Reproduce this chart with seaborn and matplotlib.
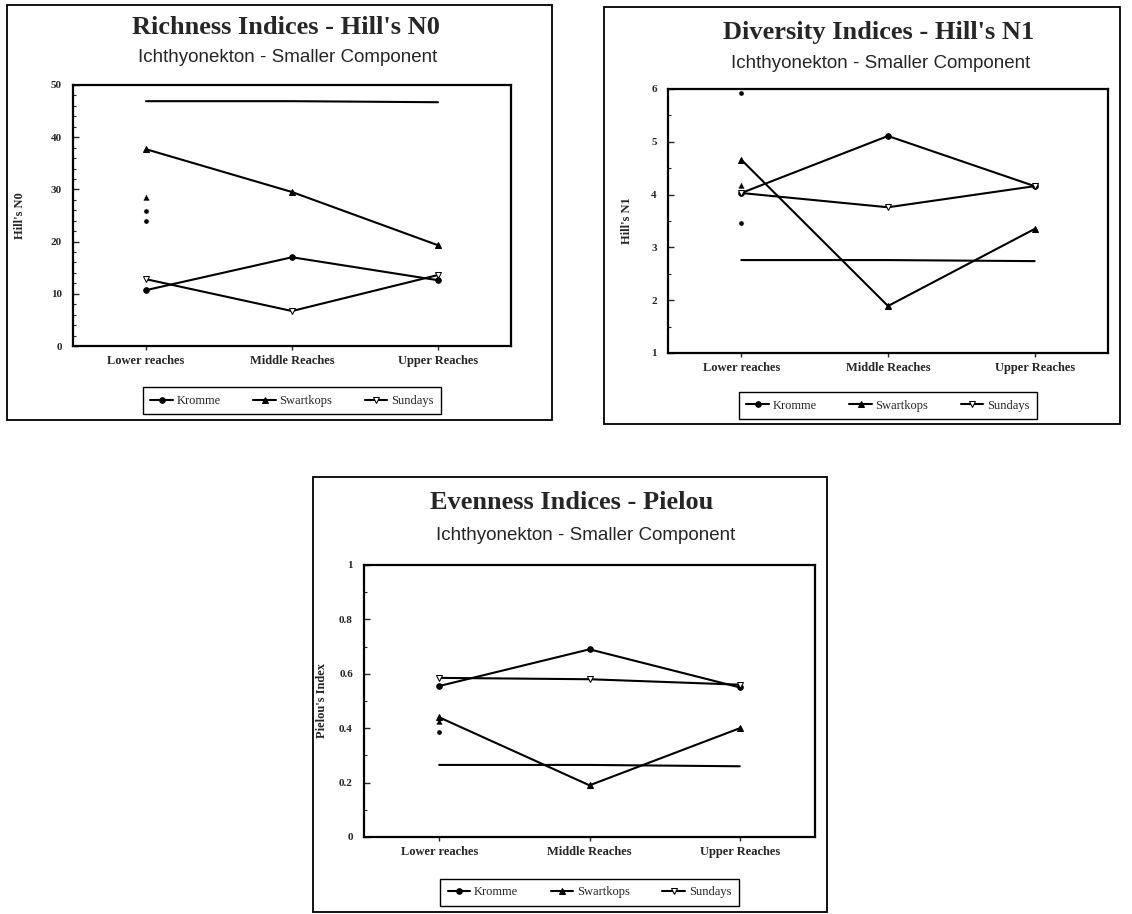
import matplotlib
matplotlib.use("Agg")
import matplotlib.pyplot as plt
from matplotlib.patches import Rectangle
from matplotlib.ticker import MultipleLocator, FormatStrFormatter
import seaborn as sns

# ---------------- data ----------------
reaches = ["Lower reaches", "Middle Reaches", "Upper Reaches"]
rivers = ["Kromme", "Swartkops", "Sundays"]

# Hill's N0 (richness)
n0_kromme = [10.7, 17.0, 12.6]
n0_swartkops = [37.7, 29.5, 19.3]
n0_sundays = [12.8, 6.7, 13.6]
n0_flat = [46.9, 46.9, 46.7]
n0_extra_tri = [28.5]
n0_extra_dot = [25.9, 23.9]

# Hill's N1 (diversity)
n1_kromme = [4.03, 5.11, 4.16]
n1_swartkops = [4.66, 1.89, 3.35]
n1_sundays = [4.03, 3.76, 4.16]
n1_flat = [2.76, 2.76, 2.74]
n1_extra_tri = [4.18]
n1_extra_dot = [5.92, 3.46]

# Pielou (evenness)
pj_kromme = [0.555, 0.69, 0.55]
pj_swartkops = [0.44, 0.19, 0.40]
pj_sundays = [0.585, 0.58, 0.56]
pj_flat = [0.265, 0.265, 0.26]
pj_extra_tri = [0.425]
pj_extra_dot = [0.385]

SUBTITLE = "Ichthyonekton - Smaller Component"
W, H = 1132, 914

sns.set_theme(style="white")
plt.rcParams["font.family"] = ["Liberation Serif", "DejaVu Serif"]

fig = plt.figure(figsize=(W / 100, H / 100), dpi=100)
fig.patch.set_facecolor("white")


def px_axes(left, top, right, bottom):
    return fig.add_axes([left / W, 1 - bottom / H, (right - left) / W, (bottom - top) / H])


def outer_box(left, top, right, bottom):
    fig.add_artist(Rectangle((left / W, 1 - bottom / H), (right - left) / W, (bottom - top) / H,
                             transform=fig.transFigure, fill=False, ec="black", lw=1.3))


def headings(x_t, y_t, title, x_s, y_s):
    fig.text(x_t / W, 1 - y_t / H, title, ha="center", va="center",
             fontsize=19, fontweight="bold", family="Liberation Serif")
    fig.text(x_s / W, 1 - y_s / H, SUBTITLE, ha="center", va="center",
             fontsize=13.5, family="Liberation Sans")


def panel(ax, series, flat, extra_tri, extra_dot, ylim, step, minor, fmt, ylabel, ylab_x, leg_y):
    styles = {
        "Kromme": dict(marker="o", markersize=4, markerfacecolor="black"),
        "Swartkops": dict(marker="^", markersize=5, markerfacecolor="black"),
        "Sundays": dict(marker="v", markersize=5, markerfacecolor="white"),
    }
    sns.lineplot(x=reaches, y=flat, ax=ax, color="black", lw=1.5, sort=False)
    for name, vals in zip(rivers, series):
        sns.lineplot(x=reaches, y=vals, ax=ax, color="black", lw=1.5, sort=False,
                     markeredgecolor="black", label=name, **styles[name])
    sns.scatterplot(x=[reaches[0]] * len(extra_tri), y=extra_tri, ax=ax, marker="^",
                    color="black", s=25, legend=False)
    sns.scatterplot(x=[reaches[0]] * len(extra_dot), y=extra_dot, ax=ax, marker="o",
                    color="black", s=14, legend=False)

    ax.set_xlim(-0.5, 2.5)
    ax.set_ylim(*ylim)
    ax.yaxis.set_major_locator(MultipleLocator(step))
    ax.yaxis.set_minor_locator(MultipleLocator(minor))
    ax.yaxis.set_major_formatter(FormatStrFormatter(fmt))
    ax.tick_params(axis="y", which="major", direction="in", length=4, width=1,
                   labelsize=8, pad=8, left=True)
    ax.tick_params(axis="y", which="minor", direction="in", length=2, width=0.8, left=True)
    ax.tick_params(axis="x", direction="out", length=3, width=1, labelsize=9, bottom=True)
    for lab in ax.get_xticklabels() + ax.get_yticklabels():
        lab.set_fontweight("bold")
    for sp in ax.spines.values():
        sp.set_visible(True)
        sp.set_color("black")
        sp.set_linewidth(1.6)
    ax.set_xlabel("")
    ax.set_ylabel(ylabel, fontsize=9, fontweight="bold")
    ax.yaxis.set_label_coords(ylab_x, 0.5)

    leg = ax.legend(loc="upper center", bbox_to_anchor=(0.5, leg_y), ncol=3, fontsize=9,
                    frameon=True, fancybox=False, edgecolor="black", framealpha=1,
                    handlelength=1.8, handletextpad=0.3, columnspacing=2.6,
                    borderpad=0.6)
    leg.get_frame().set_linewidth(1.0)


# ---- Richness ----
outer_box(7, 5, 552, 420)
headings(286, 27, "Richness Indices - Hill's N0", 288, 58)
ax1 = px_axes(73, 85, 511, 346)
panel(ax1, [n0_kromme, n0_swartkops, n0_sundays], n0_flat, n0_extra_tri, n0_extra_dot,
      (0, 50), 10, 2, "%g", "Hill's N0", -47 / 438, -0.135)

# ---- Diversity ----
outer_box(604, 7, 1120, 424)
headings(879, 33, "Diversity Indices - Hill's N1", 881, 63)
ax2 = px_axes(668, 89, 1108, 353)
panel(ax2, [n1_kromme, n1_swartkops, n1_sundays], n1_flat, n1_extra_tri, n1_extra_dot,
      (1, 6), 1, 0.5, "%g", "Hill's N1", -35 / 440, -0.125)

# ---- Evenness ----
outer_box(313, 477, 827, 912)
headings(572, 502, "Evenness Indices - Pielou", 586, 535)
ax3 = px_axes(364, 565, 815, 837)
panel(ax3, [pj_kromme, pj_swartkops, pj_sundays], pj_flat, pj_extra_tri, pj_extra_dot,
      (0, 1), 0.2, 0.1, "%g", "Pielou's Index", -36 / 451, -0.13)

fig.savefig("out.png", dpi=100, facecolor="white")
